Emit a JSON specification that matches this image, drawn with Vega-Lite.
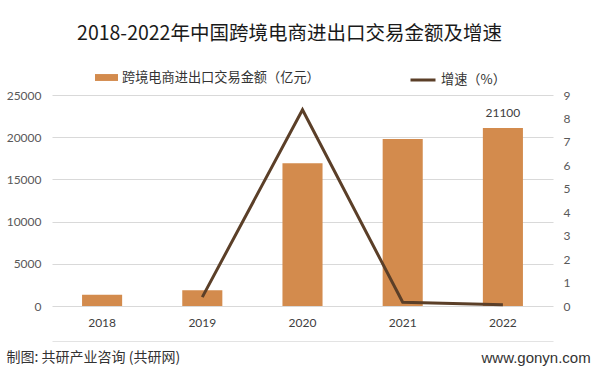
{
  "$schema": "https://vega.github.io/schema/vega-lite/v6.json",
  "width": 501,
  "height": 211,
  "autosize": {"type": "none"},
  "padding": {"left": 52, "top": 95, "right": 45, "bottom": 68},
  "background": "white",
  "title": {
    "text": "2018-2022年中国跨境电商进出口交易金额及增速",
    "font": "Noto Sans CJK SC",
    "fontSize": 19.5,
    "fontWeight": "normal",
    "color": "#1a1a1a",
    "anchor": "middle",
    "baseline": "middle",
    "offset": 13,
    "dx": -13
  },
  "config": {"view": {"stroke": null}},
  "data": {
    "values": [
      {"year": "2018", "amount": 1347, "growth": null},
      {"year": "2019", "amount": 1862, "growth": 0.38},
      {"year": "2020", "amount": 16900, "growth": 8.37},
      {"year": "2021", "amount": 19800, "growth": 0.16},
      {"year": "2022", "amount": 21100, "growth": 0.05}
    ]
  },
  "encoding": {
    "x": {
      "field": "year",
      "type": "ordinal",
      "scale": {"paddingInner": 0.6, "paddingOuter": 0.3},
      "axis": {
        "title": null,
        "labelAngle": 0,
        "ticks": false,
        "tickSize": 0,
        "domain": true,
        "domainColor": "#e3e3e3",
        "domainWidth": 1,
        "offset": 35,
        "labelPadding": -24,
        "labelFont": "Lato",
        "labelFontSize": 12,
        "labelColor": "#404040",
        "grid": false
      }
    }
  },
  "layer": [
    {
      "layer": [
        {
          "mark": {"type": "bar"},
          "encoding": {
            "y": {
              "field": "amount",
              "type": "quantitative",
              "scale": {"domain": [0, 25000], "nice": false},
              "axis": {
                "title": "制图: 共研产业咨询 (共研网)",
                "titleAngle": 0,
                "titleX": -46,
                "titleY": 262,
                "titleAlign": "left",
                "titleBaseline": "middle",
                "titleFont": "Noto Sans CJK SC",
                "titleFontSize": 14,
                "titleFontWeight": "normal",
                "titleColor": "#333333",
                "values": [0, 5000, 10000, 15000, 20000, 25000],
                "format": "d",
                "domain": false,
                "ticks": false,
                "labelPadding": 11,
                "grid": true,
                "gridColor": "#d9d9d9",
                "gridWidth": 1,
                "labelFont": "Lato",
                "labelFontSize": 12,
                "labelColor": "#595959"
              }
            },
            "fill": {
              "datum": "跨境电商进出口交易金额（亿元）",
              "type": "nominal",
              "scale": {"range": ["#d38b4d"]},
              "legend": {
                "orient": "none",
                "legendX": 43,
                "legendY": -29,
                "title": null,
                "padding": 0,
                "symbolType": "M-1,-0.3H1V0.3H-1Z",
                "symbolSize": 529,
                "symbolStrokeWidth": 0,
                "labelFont": "Noto Sans CJK SC",
                "labelFontSize": 13.2,
                "labelColor": "#333333",
                "labelOffset": 4,
                "labelLimit": 400
              }
            }
          }
        },
        {
          "transform": [{"filter": "datum.year == '2022'"}],
          "mark": {"type": "text", "dy": -15, "font": "Lato", "fontSize": 12, "color": "#404040"},
          "encoding": {
            "y": {"field": "amount", "type": "quantitative", "scale": {"domain": [0, 25000], "nice": false}},
            "text": {"field": "amount", "type": "quantitative", "format": "d"}
          }
        }
      ]
    },
    {
      "mark": {"type": "line", "strokeWidth": 3},
      "encoding": {
        "y": {
          "field": "growth",
          "type": "quantitative",
          "scale": {"domain": [0, 9], "nice": false},
          "axis": {
            "orient": "right",
            "title": "www.gonyn.com",
            "titleAngle": 0,
            "titleX": -72,
            "titleY": 262,
            "titleAlign": "left",
            "titleBaseline": "middle",
            "titleFont": "Liberation Sans",
            "titleFontSize": 15,
            "titleFontWeight": "normal",
            "titleColor": "#333333",
            "values": [0, 1, 2, 3, 4, 5, 6, 7, 8, 9],
            "domain": false,
            "ticks": false,
            "grid": false,
            "labelPadding": 10,
            "labelFont": "Lato",
            "labelFontSize": 12,
            "labelColor": "#595959"
          }
        },
        "stroke": {
          "datum": "增速（%）",
          "type": "nominal",
          "scale": {"range": ["#5b3f28"]},
          "legend": {
            "orient": "none",
            "legendX": 357,
            "legendY": -29,
            "title": null,
            "padding": 0,
            "symbolType": "stroke",
            "symbolSize": 625,
            "symbolStrokeWidth": 3,
            "labelFont": "Noto Sans CJK SC",
            "labelFontSize": 13.2,
            "labelColor": "#333333",
            "labelOffset": 4,
            "labelLimit": 200
          }
        }
      }
    }
  ],
  "resolve": {"scale": {"y": "independent"}}
}
